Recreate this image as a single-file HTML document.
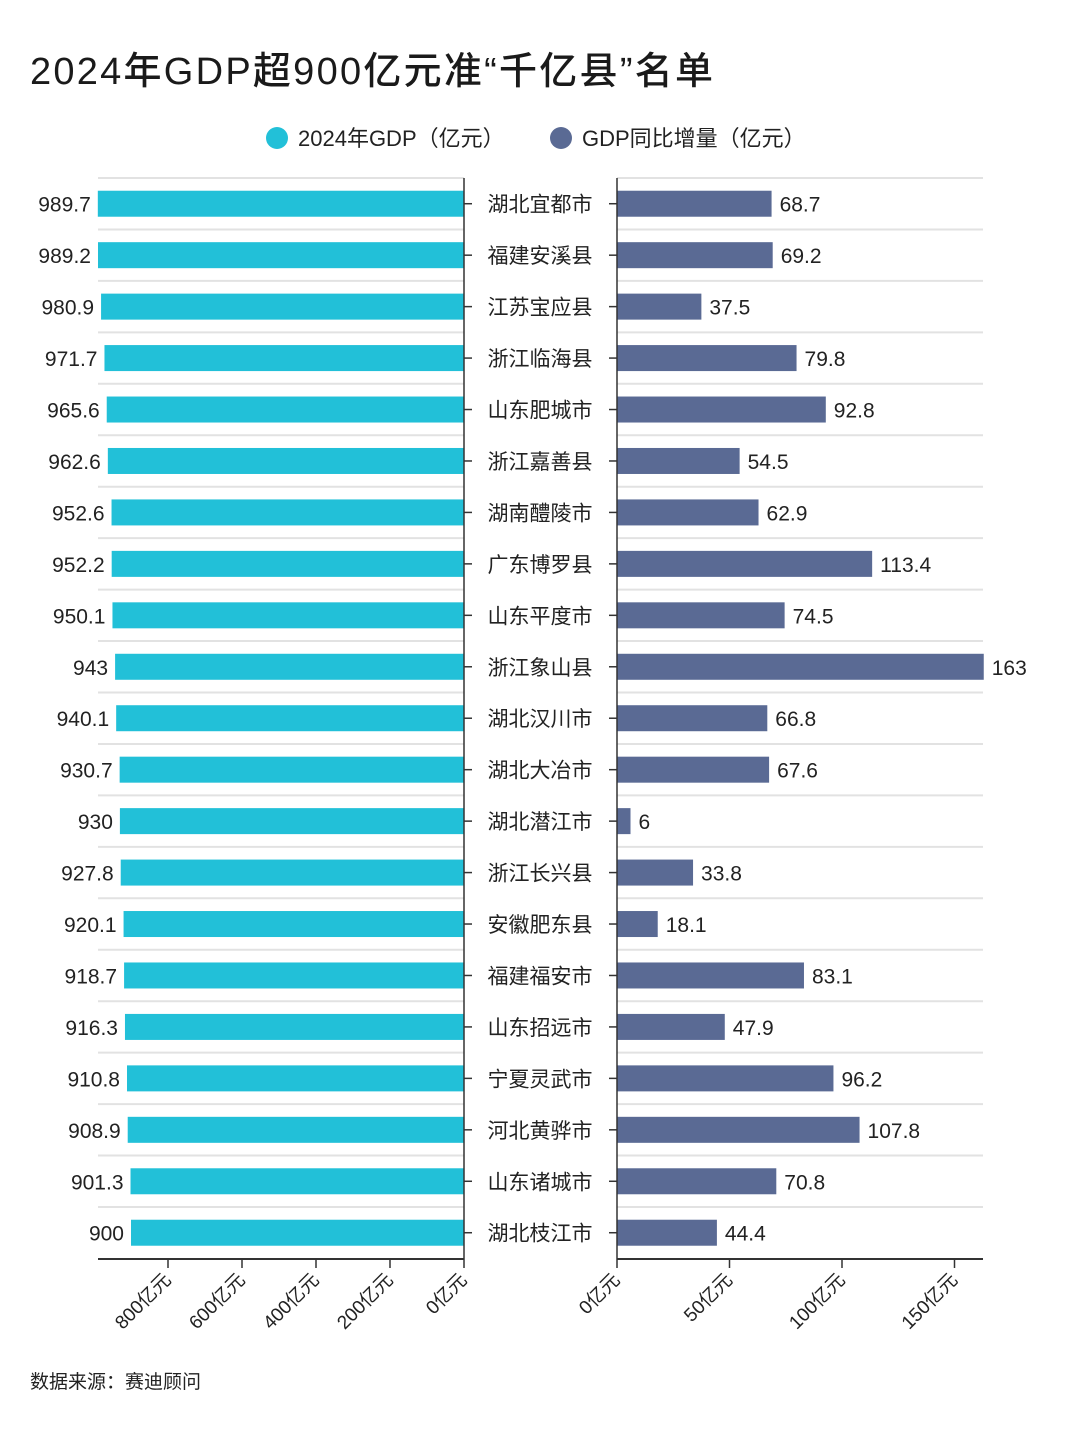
<!DOCTYPE html>
<html><head><meta charset="utf-8">
<style>
body{margin:0;background:#fff;width:1080px;height:1440px;overflow:hidden;font-family:"Liberation Sans","Noto Sans CJK SC",sans-serif;}
svg text{font-family:"Liberation Sans","Noto Sans CJK SC",sans-serif;}
</style></head>
<body>
<svg id="chart" width="1080" height="1440">
<text x="30" y="84" font-size="38" fill="#1a1a1a" font-weight="500" textLength="683">2024年GDP超900亿元准“千亿县”名单</text>
<g>
<circle cx="277" cy="138" r="11" fill="#22c0d8"/>
<text x="298" y="146" font-size="22" fill="#222">2024年GDP（亿元）</text>
<circle cx="561" cy="138" r="11" fill="#5a6a94"/>
<text x="582" y="146" font-size="22" fill="#222">GDP同比增量（亿元）</text>
</g>
<g id="plot"></g>
<text x="30" y="1388" font-size="19" fill="#222">数据来源：赛迪顾问</text>
</svg>
<script>
const names=["湖北宜都市","福建安溪县","江苏宝应县","浙江临海县","山东肥城市","浙江嘉善县","湖南醴陵市","广东博罗县","山东平度市","浙江象山县","湖北汉川市","湖北大冶市","湖北潜江市","浙江长兴县","安徽肥东县","福建福安市","山东招远市","宁夏灵武市","河北黄骅市","山东诸城市","湖北枝江市"];
const gdp=[989.7,989.2,980.9,971.7,965.6,962.6,952.6,952.2,950.1,943,940.1,930.7,930,927.8,920.1,918.7,916.3,910.8,908.9,901.3,900];
const growth=[68.7,69.2,37.5,79.8,92.8,54.5,62.9,113.4,74.5,163,66.8,67.6,6,33.8,18.1,83.1,47.9,96.2,107.8,70.8,44.4];
const leftTicks=[800,600,400,200,0];
const rightTicks=[0,50,100,150];

const NS="http://www.w3.org/2000/svg";
const g=document.getElementById('plot');
function el(t,a,txt){const e=document.createElementNS(NS,t);for(const k in a)e.setAttribute(k,a[k]);if(txt!==undefined)e.textContent=txt;g.appendChild(e);return e;}
const L0=464,LK=0.37,R0=617,RK=2.25,plotTop=178,step=51.45,axisY=1259;
const xL=v=>L0-v*LK, xR=v=>R0+v*RK;
const yC=i=>plotTop+step*(i+0.5);
for(let i=0;i<names.length;i++){
  const gy=plotTop+step*i;
  let e=el('line',{x1:98,x2:464,y1:gy,y2:gy,stroke:'#e2e2e2','stroke-width':2});
  
  
  e=el('line',{x1:617,x2:983,y1:gy,y2:gy,stroke:'#e2e2e2','stroke-width':2});
  
  
}
for(let i=0;i<names.length;i++){
  const y=yC(i);
  let e=el('rect',{x:xL(gdp[i]),y:y-13,width:L0-xL(gdp[i]),height:26,fill:'#22c0d8'});
  
  
  e=el('text',{x:xL(gdp[i])-7,y:y+8,'font-size':21,fill:'#222','text-anchor':'end'},String(gdp[i]));
  
  
  e=el('rect',{x:R0,y:y-13,width:growth[i]*RK,height:26,fill:'#5a6a94'});
  
  
  e=el('text',{x:xR(growth[i])+8,y:y+8,'font-size':21,fill:'#222'},String(growth[i]));
  
  
  e=el('text',{x:540,y:y+8,'font-size':21,fill:'#222','text-anchor':'middle'},names[i]);
  
  
  e=el('line',{x1:464,x2:472,y1:y,y2:y,stroke:'#333','stroke-width':1.5});
  
  
  e=el('line',{x1:609,x2:617,y1:y,y2:y,stroke:'#333','stroke-width':1.5});
  
  
}
let a=el('line',{x1:464,x2:464,y1:plotTop,y2:axisY,stroke:'#333','stroke-width':1.5});


a=el('line',{x1:617,x2:617,y1:plotTop,y2:axisY,stroke:'#333','stroke-width':1.5});


a=el('line',{x1:98,x2:464,y1:axisY,y2:axisY,stroke:'#333','stroke-width':2});


a=el('line',{x1:617,x2:983,y1:axisY,y2:axisY,stroke:'#333','stroke-width':2});


function tick(x,label){
  let e=el('line',{x1:x,x2:x,y1:axisY,y2:axisY+9,stroke:'#333','stroke-width':1.5});
  
  
  e=el('text',{x:x+4,y:axisY+22,'font-size':19,fill:'#222','text-anchor':'end',transform:`rotate(-45 ${x+4} ${axisY+22})`},label);
  
  
}
leftTicks.forEach(v=>tick(xL(v),v+'亿元'));
rightTicks.forEach(v=>tick(xR(v),v+'亿元'));
</script>
</body></html>
